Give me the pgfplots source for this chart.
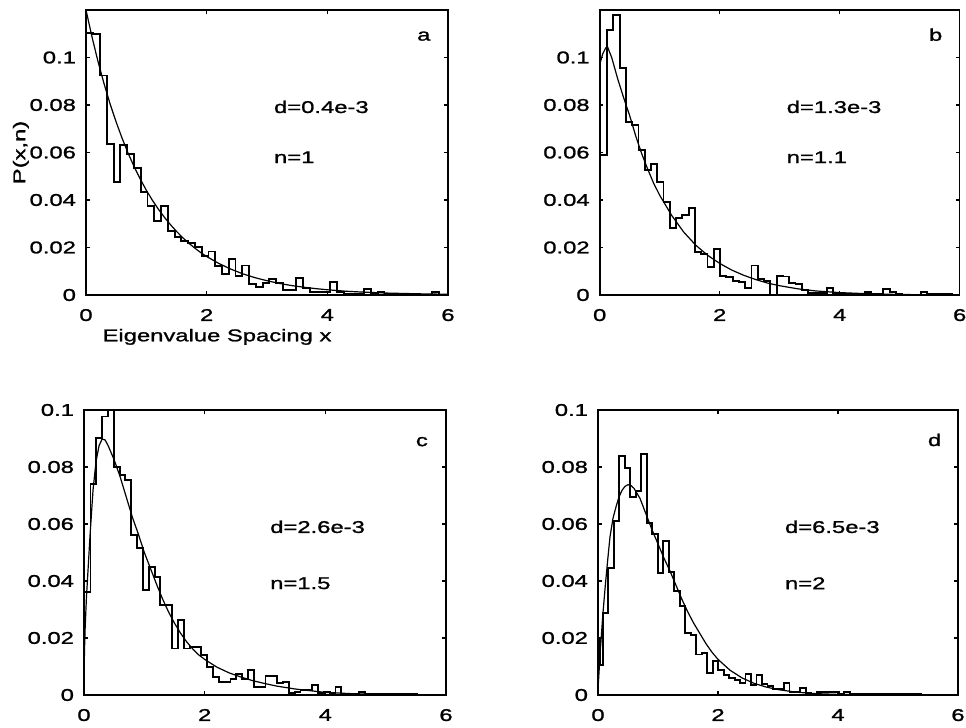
\documentclass[border=0pt]{standalone}
\usepackage{fontspec}
\setmainfont{Liberation Sans}[FakeStretch=1.4, FakeBold=1.3]
\usepackage{pgfplots}
\pgfplotsset{compat=1.18}

\newcommand\lbl{\fontsize{8.5}{10}\selectfont}

\pgfplotsset{
  panel/.style={
    scale only axis,
    xmin=0, xmax=6,
    xtick={0,2,4,6},
    tick align=inside,
    major tick length=1.8pt,
    axis line style={line width=0.8pt},
    every tick/.style={black, line width=0.6pt},
    tick label style={font=\lbl},
    /pgf/number format/assume math mode=true,
    xticklabel style={yshift=-3.5pt},
    yticklabel style={xshift=-1.5pt},
    scaled y ticks=false,
    ytick={0,0.02,0.04,0.06,0.08,0.1},
    yticklabels={0,0.02,0.04,0.06,0.08,0.1},
  },
  hist/.style={const plot, black, line width=0.95pt},
  fit/.style={black, line width=0.6pt},
}

\begin{document}
\begin{tikzpicture}
\path[use as bounding box] (0,0) rectangle (483pt,364pt);

% ---- a ----
\begin{axis}[panel, at={(43pt,216.5pt)}, anchor=south west,
    width=181pt, height=142.5pt, ymin=0, ymax=0.12,
    ylabel={P(x,n)}, xlabel={Eigenvalue Spacing x},
    label style={font=\lbl},
    ylabel style={at={(axis description cs:-0.18,0.5)}, anchor=center},
    xlabel style={at={(axis description cs:0.362,-0.147)}, anchor=center}]
\addplot[hist] coordinates {
 (0,0) (0,0.1104) (0.122,0.1100) (0.234,0.0924) (0.347,0.0636) (0.459,0.0475)
 (0.571,0.0630) (0.683,0.0594) (0.795,0.0534) (0.908,0.0433) (1.020,0.0376)
 (1.132,0.0313) (1.244,0.0376) (1.356,0.0271) (1.469,0.0243) (1.581,0.0226)
 (1.693,0.0219) (1.805,0.0201) (1.917,0.0163) (2.030,0.0183) (2.142,0.0121)
 (2.254,0.0088) (2.366,0.0152) (2.478,0.0081) (2.591,0.0124) (2.703,0.0046)
 (2.815,0.0032) (2.927,0.0051) (3.039,0.0066) (3.152,0.0049) (3.264,0.0021)
 (3.376,0.0021) (3.488,0.0070) (3.600,0.0028) (3.713,0.0014) (3.825,0.0014)
 (3.937,0.0014) (4.049,0.0056) (4.162,0.0014) (4.274,0.0004) (4.386,0.0004)
 (4.498,0.0004) (4.610,0.0024) (4.723,0.0007) (4.835,0.0011) (4.947,0.0003)
 (5.059,0.0003) (5.171,0.0004) (5.284,0.0004) (5.396,0) (5.508,0) (5.620,0)
 (5.733,0.0013) (5.845,0)
};
\addplot[fit] coordinates {
 (0,0.1200) (0.1,0.1086) (0.2,0.0982) (0.3,0.0889) (0.4,0.0804) (0.5,0.0728)
 (0.6,0.0659) (0.7,0.0596) (0.8,0.0539) (0.9,0.0488) (1.0,0.0441) (1.1,0.0399)
 (1.2,0.0361) (1.3,0.0327) (1.4,0.0296) (1.5,0.0268) (1.6,0.0242) (1.7,0.0219)
 (1.8,0.0198) (1.9,0.0179) (2.0,0.0162) (2.2,0.0133) (2.4,0.0109) (2.6,0.0089)
 (2.8,0.0073) (3.0,0.0060) (3.2,0.0049) (3.4,0.0040) (3.6,0.0033) (3.8,0.0027)
 (4.0,0.0022) (4.3,0.0016) (4.6,0.0012) (5.0,0.0008) (5.5,0.0005) (6.0,0.0003)
};
\node[font=\lbl] at (axis cs:5.6,0.109) {a};
\node[font=\lbl, anchor=west] at (axis cs:3.0,0.0792) {d=0.4e-3};
\node[font=\lbl, anchor=west] at (axis cs:3.0,0.0580) {n=1};
\end{axis}

% ---- b ----
\begin{axis}[panel, at={(299.85pt,216.5pt)}, anchor=south west,
    width=180pt, height=142.5pt, ymin=0, ymax=0.12]
\addplot[hist] coordinates {
 (0,0) (0,0.059) (0.122,0.1114) (0.227,0.118) (0.331,0.0955) (0.436,0.0728)
 (0.541,0.0716) (0.646,0.0612) (0.750,0.0528) (0.855,0.0550) (0.960,0.0475)
 (1.064,0.0393) (1.169,0.0281) (1.274,0.0323) (1.378,0.0337) (1.483,0.0365)
 (1.588,0.0180) (1.692,0.0173) (1.797,0.0117) (1.902,0.0194) (2.007,0.0081)
 (2.111,0.0074) (2.216,0.0060) (2.321,0.0053) (2.425,0.0028) (2.530,0.0124)
 (2.635,0.0067) (2.740,0.0060) (2.844,0.0000) (2.949,0.0080) (3.054,0.0078)
 (3.158,0.0050) (3.263,0.0048) (3.368,0.0022) (3.472,0.0010) (3.577,0.0008)
 (3.682,0.0008) (3.786,0.0028) (3.891,0.0010) (3.996,0.0004) (4.100,0.0004)
 (4.205,0.0004) (4.310,0.0004) (4.415,0.0011) (4.519,0.0004) (4.624,0.0004)
 (4.729,0.0024) (4.833,0.0011) (4.938,0.0004) (5.043,0) (5.147,0) (5.252,0)
 (5.357,0.0013) (5.461,0.0006) (5.566,0.0006) (5.671,0.0006) (5.775,0.0006)
 (5.880,0)
};
\addplot[fit] coordinates {
 (0,0.0970) (0.05,0.1015) (0.1,0.1040) (0.13,0.1045) (0.2,0.1000) (0.3,0.0910)
 (0.4,0.0830) (0.5,0.0755) (0.6,0.0670) (0.7,0.0595) (0.8,0.0530) (0.9,0.0470)
 (1.0,0.0420) (1.2,0.0335) (1.4,0.0265) (1.6,0.0210) (1.8,0.0167) (2.0,0.0133)
 (2.2,0.0105) (2.4,0.0083) (2.6,0.0065) (2.8,0.0050) (3.0,0.0039) (3.3,0.0026)
 (3.6,0.0017) (4.0,0.0010) (4.5,0.0005) (5.0,0.0002) (5.5,0.0001) (6.0,0)
};
\node[font=\lbl] at (axis cs:5.6,0.1096) {b};
\node[font=\lbl, anchor=west] at (axis cs:3.0,0.0792) {d=1.3e-3};
\node[font=\lbl, anchor=west] at (axis cs:3.0,0.0580) {n=1.1};
\end{axis}

% ---- c ----
\begin{axis}[panel, at={(42pt,16.5pt)}, anchor=south west,
    width=181pt, height=142.5pt, ymin=0, ymax=0.1]
\addplot[hist] coordinates {
 (0,0) (0,0.036) (0.107,0.0739) (0.203,0.0901) (0.300,0.0977) (0.397,0.108)
 (0.494,0.0801) (0.590,0.0772) (0.687,0.0754) (0.784,0.0561) (0.880,0.0515)
 (0.977,0.0368) (1.074,0.0450) (1.170,0.0415) (1.267,0.0315) (1.364,0.0315)
 (1.461,0.0163) (1.557,0.0262) (1.654,0.0163) (1.751,0.0168) (1.847,0.0168)
 (1.944,0.0140) (2.041,0.0099) (2.137,0.0064) (2.234,0.0047) (2.331,0.0047)
 (2.428,0.0056) (2.524,0.0074) (2.621,0.0055) (2.718,0.0088) (2.814,0.0029)
 (2.911,0.0029) (3.008,0.0067) (3.104,0.0067) (3.201,0.0043) (3.298,0.0047)
 (3.395,0.0008) (3.491,0.0012) (3.588,0.0018) (3.685,0.0018) (3.781,0.0035)
 (3.878,0.0006) (3.975,0.0012) (4.071,0.0006) (4.168,0.0027) (4.265,0.0004)
 (4.362,0.0004) (4.458,0.0004) (4.555,0.0012) (4.652,0.0004) (4.748,0.0002)
 (4.845,0.0003) (4.942,0.0002) (5.038,0.0003) (5.135,0.0002) (5.232,0.0003)
 (5.328,0.0002) (5.425,0.0003) (5.522,0)
};
\addplot[fit] coordinates {
 (0,0) (0.005,0.012) (0.01,0.017) (0.02,0.024) (0.04,0.034) (0.07,0.045)
 (0.1,0.056) (0.15,0.072) (0.2,0.082) (0.25,0.0875) (0.3,0.0898) (0.35,0.0895)
 (0.4,0.0875) (0.5,0.0825) (0.6,0.0765) (0.7,0.0695) (0.8,0.0625) (0.9,0.0565)
 (1.0,0.0500) (1.1,0.0445) (1.2,0.0390) (1.3,0.0338) (1.4,0.0292) (1.5,0.0252)
 (1.6,0.0217) (1.7,0.0187) (1.8,0.0162) (1.9,0.0141) (2.0,0.0125) (2.2,0.0098)
 (2.4,0.0078) (2.6,0.0063) (2.8,0.0050) (3.0,0.0040) (3.2,0.0031) (3.5,0.0021)
 (4.0,0.0009) (4.5,0.0004) (5.0,0.0002) (5.5,0.0001) (6.0,0)
};
\node[font=\lbl] at (axis cs:5.6,0.0889) {c};
\node[font=\lbl, anchor=west] at (axis cs:2.97,0.0590) {d=2.6e-3};
\node[font=\lbl, anchor=west] at (axis cs:2.97,0.0392) {n=1.5};
\end{axis}

% ---- d ----
\begin{axis}[panel, at={(299pt,16.5pt)}, anchor=south west,
    width=180pt, height=142.5pt, ymin=0, ymax=0.1]
\addplot[hist] coordinates {
 (0,0) (0,0.0200) (0.030,0.0105) (0.080,0.0288) (0.172,0.0446) (0.263,0.0612)
 (0.355,0.0840) (0.446,0.0797) (0.538,0.0695) (0.629,0.0717) (0.721,0.0845)
 (0.812,0.0602) (0.904,0.0565) (0.995,0.0427) (1.087,0.0540) (1.178,0.0433)
 (1.270,0.0366) (1.361,0.0311) (1.453,0.0218) (1.544,0.0212) (1.636,0.0142)
 (1.727,0.0147) (1.819,0.0077) (1.910,0.0118) (2.002,0.0089) (2.093,0.0071)
 (2.185,0.0060) (2.276,0.0054) (2.368,0.0042) (2.459,0.0074) (2.551,0.0036)
 (2.642,0.0071) (2.734,0.0040) (2.825,0.0033) (2.917,0.0020) (3.008,0.0020)
 (3.100,0.0041) (3.191,0.0012) (3.283,0.0012) (3.374,0.0023) (3.466,0.0006)
 (3.557,0.0005) (3.649,0.0009) (3.740,0.0010) (3.832,0.0010) (3.923,0.0011)
 (4.015,0.0004) (4.106,0.0012) (4.198,0.0004) (4.289,0.0003) (4.381,0.0004)
 (4.472,0.0002) (4.564,0.0003) (4.655,0.0002) (4.747,0.0003) (4.838,0.0002)
 (4.930,0.0003) (5.021,0.0002) (5.113,0.0004) (5.204,0.0002) (5.296,0.0003)
 (5.387,0)
};
\addplot[fit] coordinates {
 (0,0.002) (0.04,0.016) (0.08,0.028) (0.12,0.038) (0.16,0.047) (0.2,0.0555)
 (0.25,0.062) (0.3,0.066) (0.35,0.0695) (0.4,0.0718) (0.45,0.0732) (0.5,0.0738)
 (0.55,0.0735) (0.6,0.0725) (0.7,0.0690) (0.8,0.0635) (0.9,0.0580) (1.0,0.0530)
 (1.1,0.0480) (1.2,0.0435) (1.3,0.0385) (1.4,0.0335) (1.5,0.0290) (1.6,0.0250)
 (1.7,0.0215) (1.8,0.0180) (1.9,0.0150) (2.0,0.0125) (2.2,0.0087) (2.4,0.0060)
 (2.6,0.0041) (2.8,0.0028) (3.0,0.0019) (3.3,0.0010) (3.6,0.0005) (4.0,0.0002)
 (4.5,0.0001) (5.0,0) (6.0,0)
};
\node[font=\lbl] at (axis cs:5.61,0.0895) {d};
\node[font=\lbl, anchor=west] at (axis cs:3.0,0.0590) {d=6.5e-3};
\node[font=\lbl, anchor=west] at (axis cs:3.0,0.0392) {n=2};
\end{axis}
\end{tikzpicture}
\end{document}
